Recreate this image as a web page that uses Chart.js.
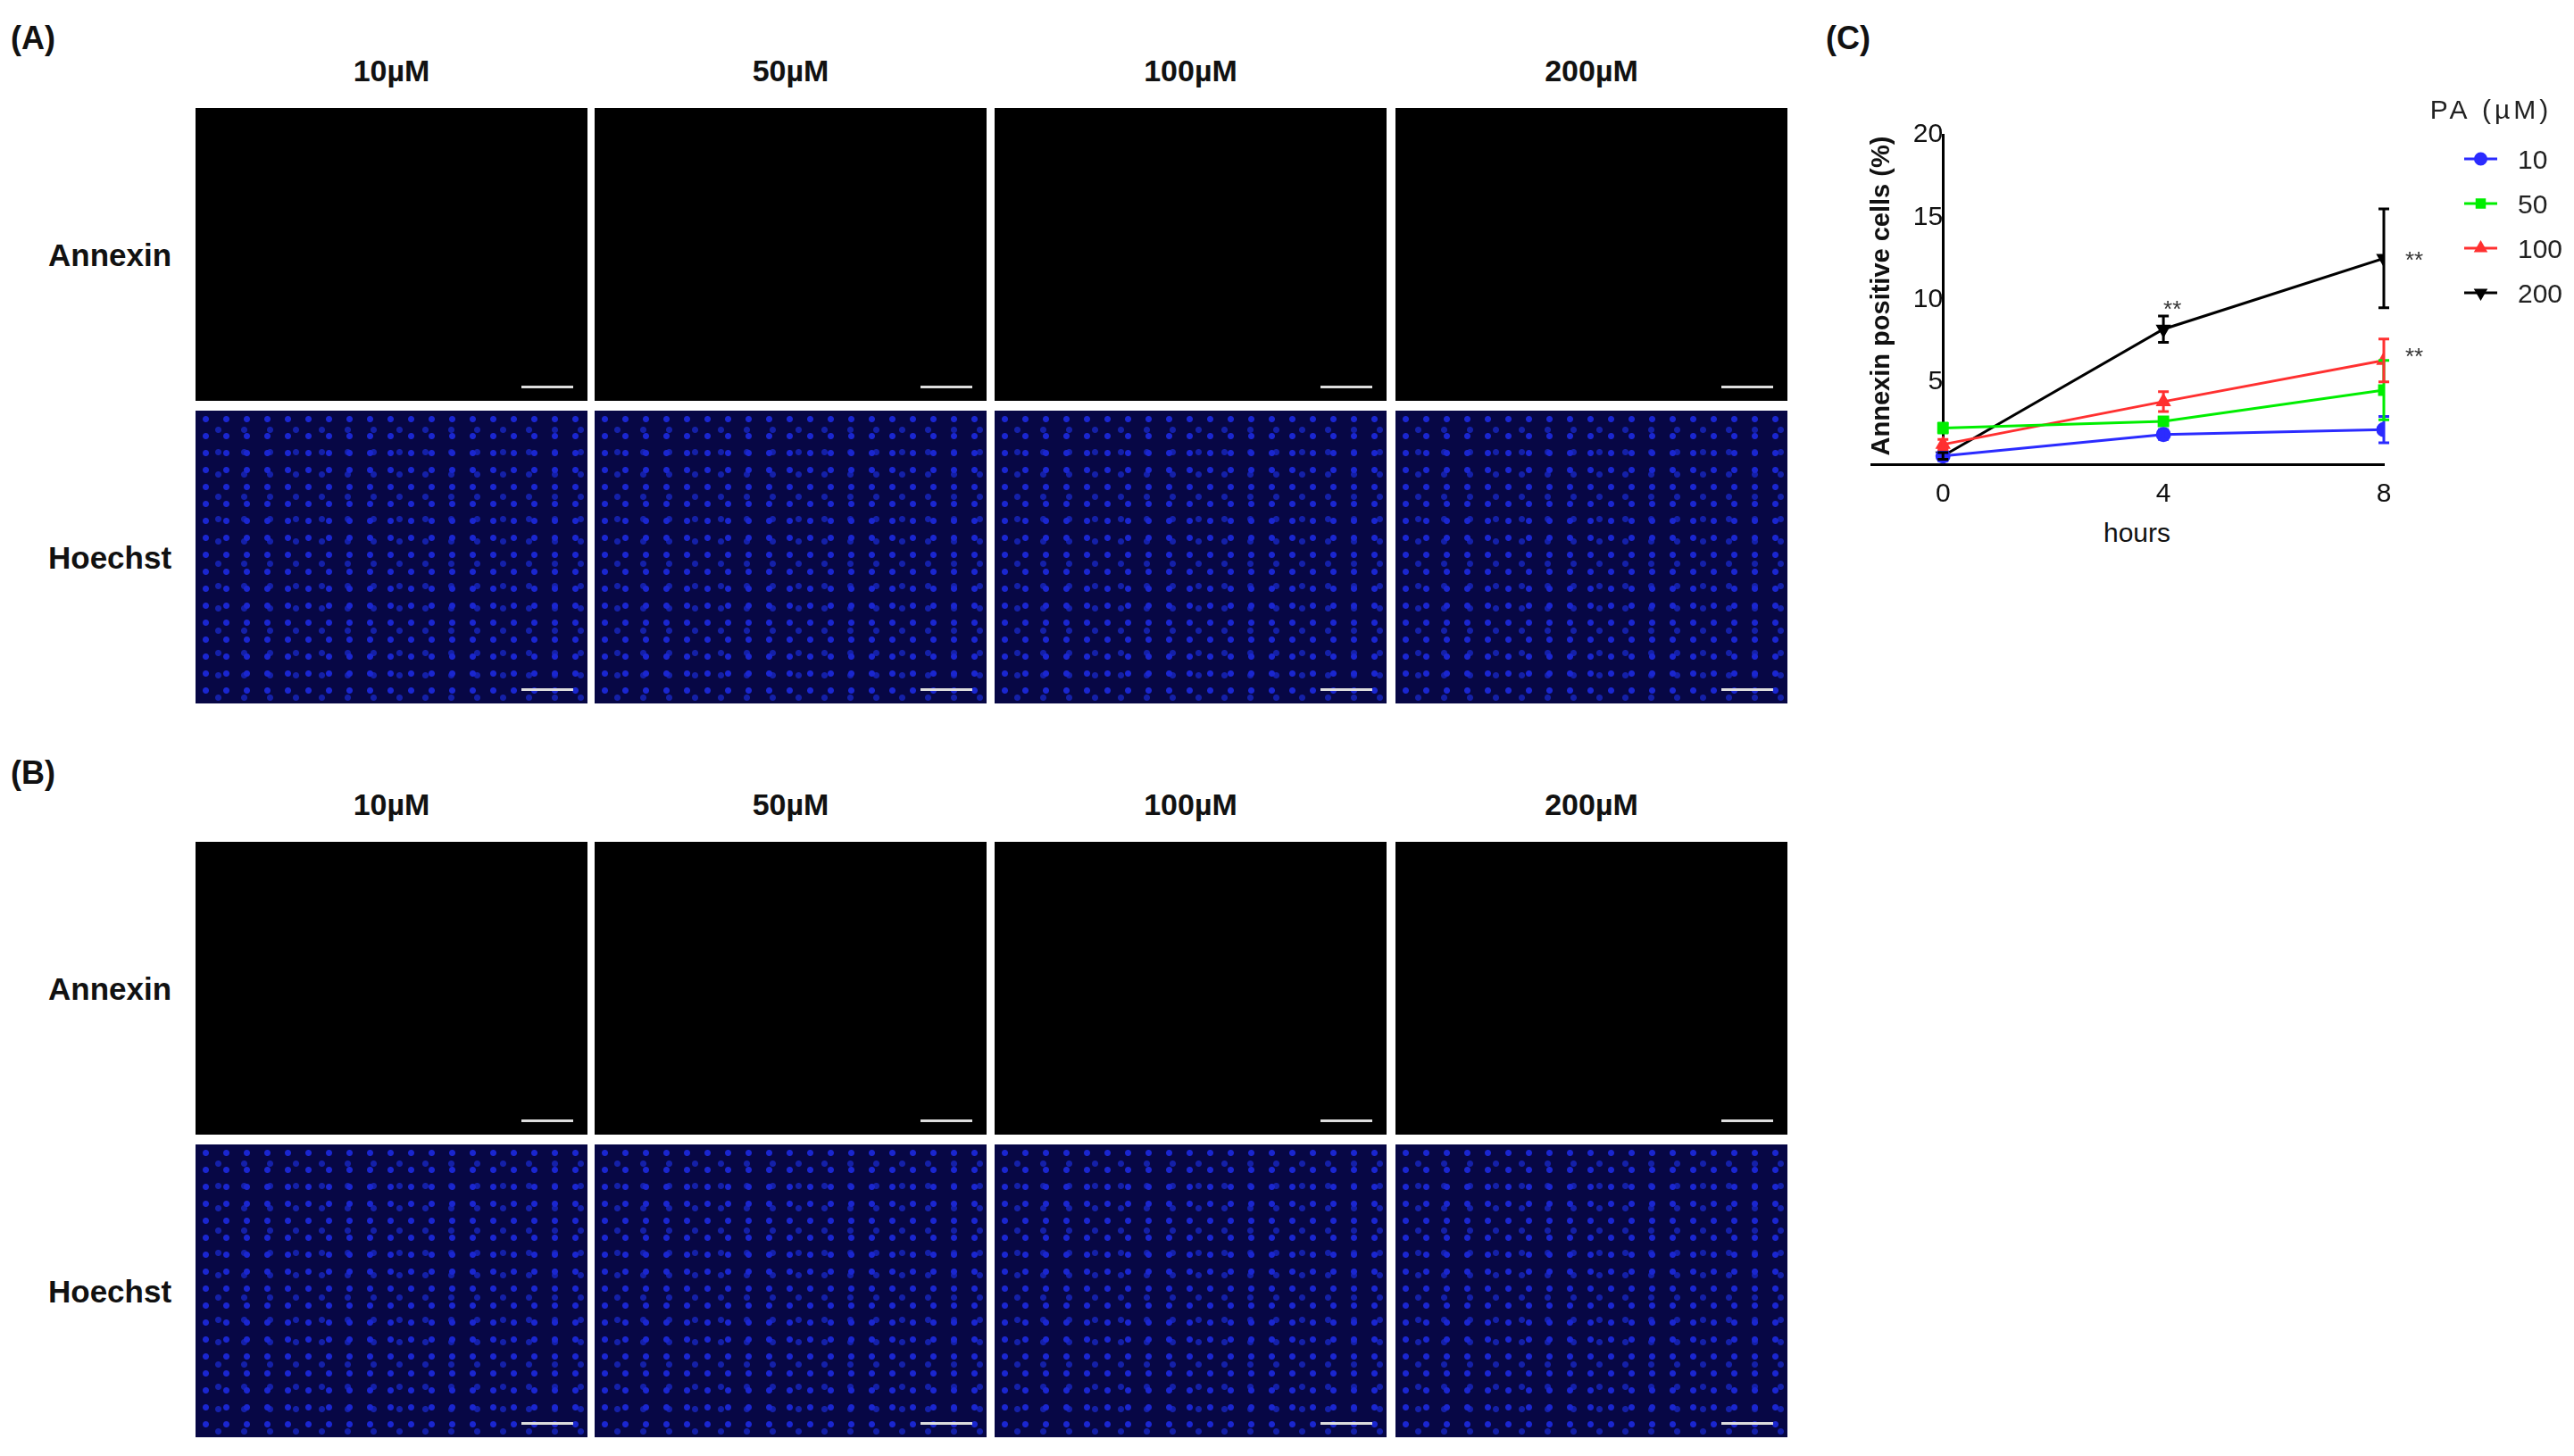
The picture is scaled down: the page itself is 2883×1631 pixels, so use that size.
<!DOCTYPE html>
<html><head><meta charset="utf-8">
<script src="https://cdn.jsdelivr.net/npm/chart.js@4"></script>
<style>
body{margin:0;width:2883px;height:1631px;background:#fff;position:relative;overflow:hidden;font-family:"Liberation Sans",Arial,sans-serif}
.t{position:absolute;font-weight:bold;color:#111;white-space:nowrap}
.p{position:absolute;width:439px;height:328px}
.an{background:#000}
.ho{background:#070745;background-image:radial-gradient(circle,#1a26d0 0 3px,transparent 4px),radial-gradient(circle,#1420a8 0 3px,transparent 4px);background-size:23px 19px,29px 25px;background-position:0 0,11px 9px}
.sb{position:absolute;right:16px;bottom:14px;width:58px;height:3px;background:#ddd}
</style></head><body>
<div id="fig"></div>
<canvas id="c" width="843" height="640" style="position:absolute;left:2040px;top:0;width:843px;height:640px"></canvas>
<script>
const hours=[0,4,8];
const groups=['10','50','100','200'];
const m10=[0.5,1.8,2.1], e10=[0.3,0.3,0.8];
const m50=[2.2,2.6,4.5], e50=[0.3,0.2,1.8];
const m100=[1.2,3.8,6.3], e100=[0.3,0.6,1.3];
const m200=[0.5,8.2,12.5], e200=[0.2,0.8,3.0];
const colors=['#2b2bff','#00ee00','#ff3030','#000000'];
const shapes=['circle','rect','triangle','triangle'];
const rots=[0,0,0,180];
const colHeads=['10µM','50µM','100µM','200µM'];
const rowHeads=['Annexin','Hoechst'];

const fig=document.getElementById('fig');
const colX=[219,666,1114,1563], blocks=[{lab:'(A)',ly:22,hy:60,rows:[121,460]},{lab:'(B)',ly:845,hy:882,rows:[943,1282]}];
let h='';
blocks.forEach(b=>{
 h+=`<div class="t" style="left:12px;top:${b.ly}px;font-size:36px">${b.lab}</div>`;
 colHeads.forEach((c,i)=>h+=`<div class="t" style="left:${colX[i]}px;width:439px;text-align:center;top:${b.hy}px;font-size:34px">${c}</div>`);
 b.rows.forEach((y,r)=>{
  h+=`<div class="t" style="left:54px;width:165px;top:${y+145}px;font-size:35px">${rowHeads[r]}</div>`;
  colX.forEach(x=>h+=`<div class="p ${r?'ho':'an'}" style="left:${x}px;top:${y}px"><div class="sb"></div></div>`);
 });
});
h+=`<div class="t" style="left:2045px;top:22px;font-size:36px">(C)</div>`;
h+=`<div class="t" style="left:2356px;top:580px;font-size:30px;font-weight:normal">hours</div>`;
fig.innerHTML=h;

const means=[m10,m50,m100,m200], errs=[e10,e50,e100,e200];
const datasets=groups.map((g,i)=>({label:g,data:hours.map((x,j)=>({x,y:means[i][j]})),borderColor:colors[i],backgroundColor:colors[i],
 pointStyle:shapes[i],rotation:rots[i],pointRadius:7,borderWidth:3,errs:errs[i]}));

const extras={id:'extras',afterDatasetsDraw(ch){
 const ctx=ch.ctx,xs=ch.scales.x,ys=ch.scales.y;
 ctx.save();
 ch.data.datasets.forEach(ds=>{
  ctx.strokeStyle=ds.borderColor;ctx.lineWidth=3;
  ds.data.forEach((p,j)=>{const e=ds.errs[j],px=xs.getPixelForValue(p.x),t=ys.getPixelForValue(p.y+e),b=ys.getPixelForValue(p.y-e);
   ctx.beginPath();ctx.moveTo(px,t);ctx.lineTo(px,b);ctx.moveTo(px-6,t);ctx.lineTo(px+6,t);ctx.moveTo(px-6,b);ctx.lineTo(px+6,b);ctx.stroke();});
 });
 ctx.fillStyle='#333';ctx.font='26px "Liberation Sans"';ctx.textAlign='left';
 [[4,9.6,0],[8,12.6,24],[8,6.7,24]].forEach(([x,y,dx])=>ctx.fillText('**',xs.getPixelForValue(x)+dx,ys.getPixelForValue(y)+12));
 // y title
 ctx.save();ctx.translate(68,ys.getPixelForValue(10)-4);ctx.rotate(-Math.PI/2);
 ctx.fillStyle='#111';ctx.font='bold 29px "Liberation Sans"';ctx.textAlign='center';ctx.textBaseline='middle';
 ctx.fillText('Annexin positive cells (%)',0,0);ctx.restore();
 // legend
 ctx.fillStyle='#222';ctx.font='30px "Liberation Sans"';ctx.textAlign='center';
 ctx.letterSpacing='4px';ctx.fillText('PA (µM)',2790-2040,133);ctx.letterSpacing='0px';
 ctx.textAlign='left';
 groups.forEach((g,i)=>{const y=178+i*50;ctx.strokeStyle=colors[i];ctx.lineWidth=3;
  ctx.beginPath();ctx.moveTo(720,y);ctx.lineTo(757,y);ctx.stroke();
  Chart.helpers.drawPoint(ctx,{pointStyle:shapes[i],rotation:rots[i],radius:6,borderWidth:1},738.5,y);
  ctx.fillStyle=colors[i];ctx.fill();
  ctx.fillStyle='#222';ctx.fillText(g,780,y+11);});
 ctx.restore();
}};

new Chart(document.getElementById('c'),{type:'line',data:{datasets},plugins:[extras],
 options:{responsive:false,animation:false,devicePixelRatio:1,
  layout:{padding:{left:56,top:151,right:213,bottom:60}},
  plugins:{legend:{display:false},tooltip:{enabled:false}},
  scales:{
   x:{type:'linear',min:-1.3,max:8,afterBuildTicks:a=>{a.ticks=hours.map(v=>({value:v}))},afterFit:s=>{s.height=60},
      grid:{display:false,drawTicks:true,tickLength:10,tickWidth:3,tickColor:'#000'},border:{color:'#000',width:3},
      ticks:{color:'#111',font:{size:30,family:'Liberation Sans'},padding:6}},
   y:{type:'linear',min:0,max:20,position:{x:0},afterBuildTicks:a=>{a.ticks=[0,5,10,15,20].map(v=>({value:v}))},
      grid:{display:false,drawTicks:true,tickLength:10,tickWidth:3,tickColor:'#000'},border:{color:'#000',width:3},
      ticks:{color:'#111',font:{size:30,family:'Liberation Sans'},padding:4,callback:v=>v===0?'':v}}
  }}});
</script></body></html>
